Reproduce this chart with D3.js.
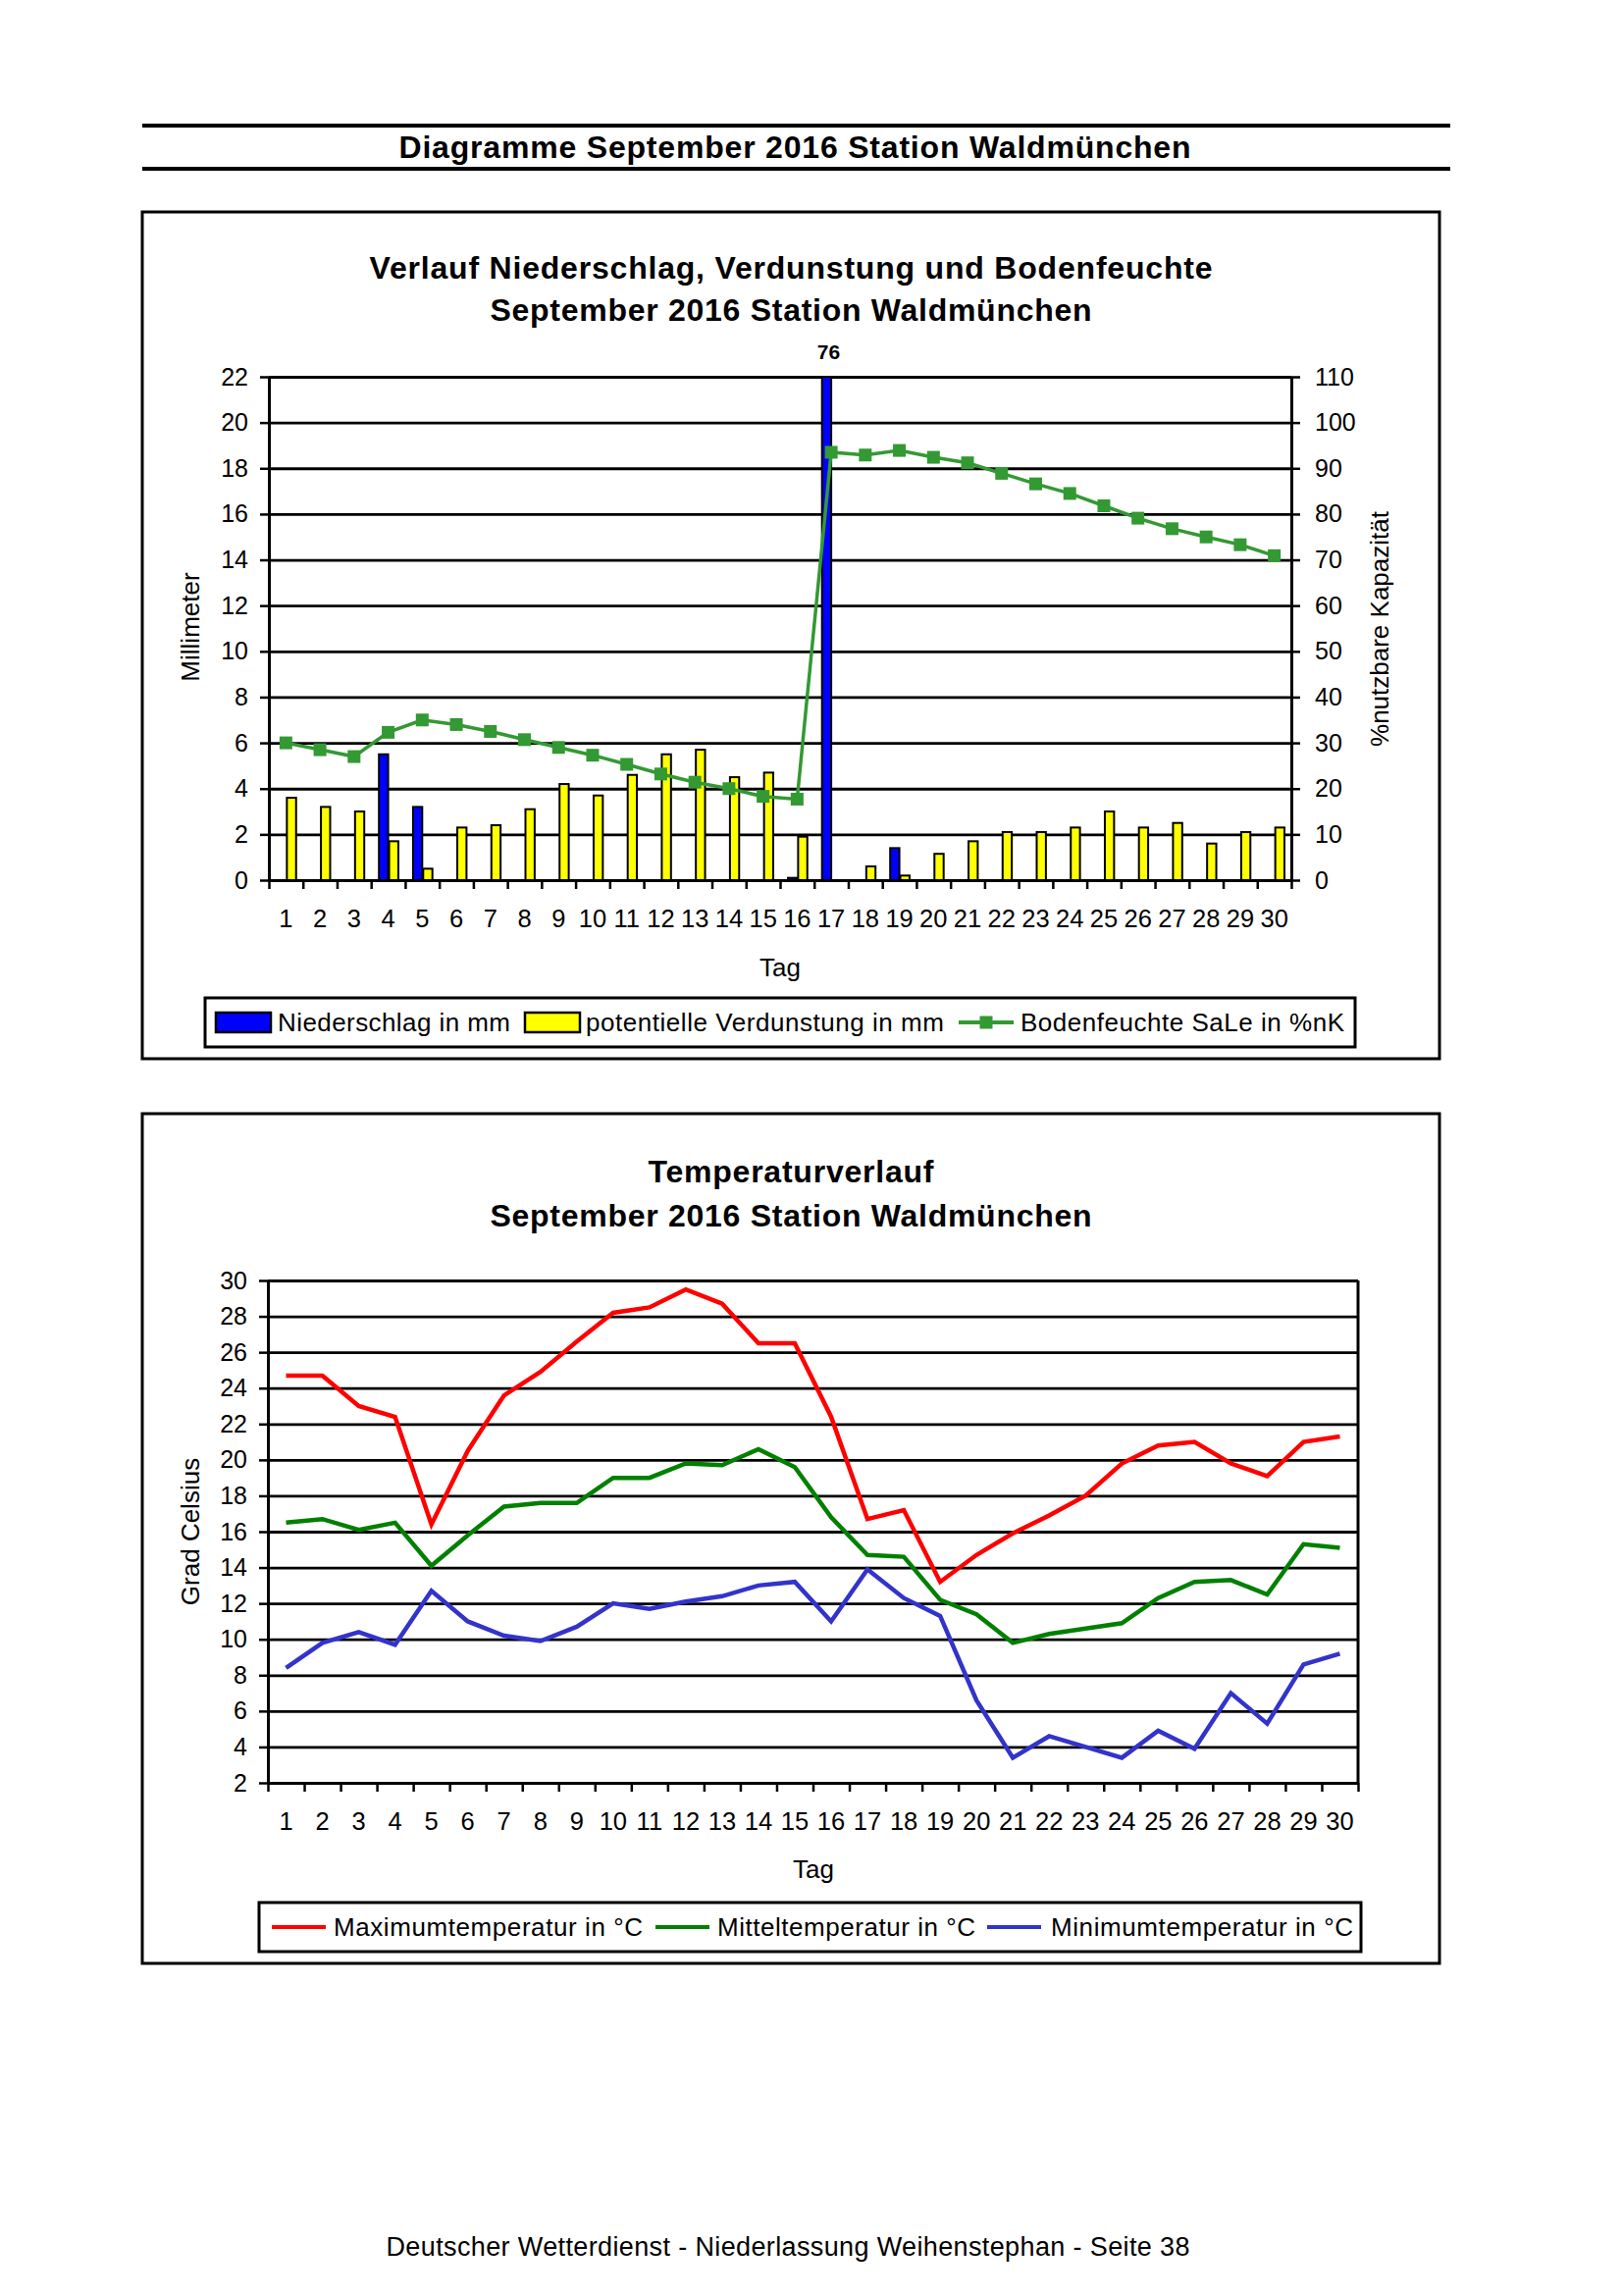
<!DOCTYPE html>
<html><head><meta charset="utf-8">
<script src="https://cdn.jsdelivr.net/npm/d3@7"></script>
<style>
body{margin:0;background:#fff}
svg{display:block}
text{font-family:"Liberation Sans",Arial,Helvetica,sans-serif;fill:#000}
</style>
</head><body>
<svg id="c" width="1653" height="2340"></svg>
<script>
// ---------- data ----------
const days = [1,2,3,4,5,6,7,8,9,10,11,12,13,14,15,16,17,18,19,20,21,22,23,24,25,26,27,28,29,30];
const niederschlag = [0,0,0,5.5,3.2,0,0,0,0,0,0,0,0,0,0,0.1,76,0,1.4,0,0,0,0,0,0,0,0,0,0,0];
const verdunstung = [3.6,3.2,3.0,1.7,0.5,2.3,2.4,3.1,4.2,3.7,4.6,5.5,5.7,4.5,4.7,1.9,0,0.6,0.2,1.15,1.7,2.1,2.1,2.3,3.0,2.3,2.5,1.6,2.1,2.3];
const bodenfeuchte = [30,28.5,27,32.3,35,34,32.5,30.7,29,27.3,25.3,23.2,21.4,20,18.3,17.7,93.5,92.9,93.9,92.4,91.2,88.9,86.6,84.5,81.8,79.1,76.8,75,73.3,70.9];
const tmax = [24.7,24.7,23.0,22.4,16.4,20.5,23.6,24.9,26.6,28.2,28.5,29.5,28.7,26.5,26.5,22.4,16.7,17.2,13.2,14.7,15.9,16.9,18.0,19.8,20.8,21.0,19.8,19.1,21.0,21.3];
const tmean = [16.5,16.7,16.1,16.5,14.1,15.8,17.4,17.6,17.6,19.0,19.0,19.8,19.7,20.6,19.6,16.8,14.7,14.6,12.2,11.4,9.8,10.3,10.6,10.9,12.3,13.2,13.3,12.5,15.3,15.1];
const tmin = [8.4,9.8,10.4,9.7,12.7,11.0,10.2,9.9,10.7,12.0,11.7,12.1,12.4,13.0,13.2,11.0,13.9,12.3,11.3,6.6,3.4,4.6,4.0,3.4,4.9,3.9,7.0,5.3,8.6,9.2];
const mmTicks = [0,2,4,6,8,10,12,14,16,18,20,22];
const pctTicks = [0,10,20,30,40,50,60,70,80,90,100,110];
const tempTicks = [2,4,6,8,10,12,14,16,18,20,22,24,26,28,30];

const headerTitle = "Diagramme September 2016 Station Waldmünchen";
const title1a = "Verlauf Niederschlag, Verdunstung und Bodenfeuchte";
const title1b = "September 2016 Station Waldmünchen";
const title2a = "Temperaturverlauf";
const title2b = "September 2016 Station Waldmünchen";
const footer = "Deutscher Wetterdienst - Niederlassung Weihenstephan - Seite 38";

// ---------- drawing ----------
const svg = d3.select("#c");
svg.append("rect").attr("width",1653).attr("height",2340).attr("fill","#fff");

function txt(g, s, x, y, o={}) {
  const t = g.append("text").attr("x",x).attr("y",y).text(s)
    .attr("font-size", o.size||26)
    .attr("text-anchor", o.anchor||"start");
  if (o.bold) t.attr("font-weight","bold");
  if (o.len) t.attr("textLength", o.len).attr("lengthAdjust","spacing");
  if (o.rotate) t.attr("transform", `rotate(${o.rotate},${x},${y})`).attr("dy","0.35em");
  return t;
}

// header
svg.append("line").attr("x1",145).attr("x2",1478).attr("y1",128).attr("y2",128).attr("stroke","#000").attr("stroke-width",4);
svg.append("line").attr("x1",145).attr("x2",1478).attr("y1",172).attr("y2",172).attr("stroke","#000").attr("stroke-width",4);
txt(svg, headerTitle, 810, 161, {size:32, bold:true, anchor:"middle", len:807});

function styleAxis(g, size) {
  g.selectAll("text").attr("font-size", size).attr("fill","#000")
    .attr("font-family",'"Liberation Sans",Arial,sans-serif');
  g.selectAll("line").attr("stroke","#000").attr("stroke-width",2.5);
  g.selectAll("path.domain").attr("stroke","#000").attr("stroke-width",3);
}
function grid(g, scale, values, width) {
  const gg = g.append("g").call(d3.axisLeft(scale).tickValues(values).tickSize(-width).tickFormat(""));
  gg.select(".domain").remove();
  gg.selectAll("line").attr("stroke","#000").attr("stroke-width",2.8);
  return gg;
}

// ===== Chart 1 =====
svg.append("rect").attr("x",145).attr("y",216).attr("width",1322).attr("height",863)
  .attr("fill","none").attr("stroke","#000").attr("stroke-width",3);
txt(svg, title1a, 806, 284, {size:32, bold:true, anchor:"middle", len:859});
txt(svg, title1b, 806, 327, {size:32, bold:true, anchor:"middle", len:613});

const p1 = {l:274, r:1316, t:384, b:897};
const x1 = d3.scaleBand().domain(days).range([p1.l, p1.r]);
const xe1 = d3.scaleLinear().domain([0, days.length]).range([p1.l, p1.r]);
const yL = d3.scaleLinear().domain([0, 22]).range([p1.b, p1.t]);
const yR = d3.scaleLinear().domain([0, 110]).range([p1.b, p1.t]);
const g1 = svg.append("g");
grid(g1.append("g").attr("transform",`translate(${p1.l},0)`), yL, mmTicks, p1.r-p1.l);

const bw = x1.bandwidth();
const barW = bw*0.27;
const yMax = yL.domain()[1];
// precipitation bars
g1.append("g").selectAll("rect").data(days.map((d,i)=>({d, v:niederschlag[i]})).filter(o=>o.v>0))
  .join("rect")
  .attr("x", o => x1(o.d) + bw/2 - barW)
  .attr("y", o => yL(Math.min(o.v, yMax)))
  .attr("width", barW)
  .attr("height", o => yL(0) - yL(Math.min(o.v, yMax)))
  .attr("fill","#0000ff").attr("stroke","#000").attr("stroke-width",2);
// value labels for clipped bars
g1.append("g").selectAll("text").data(days.map((d,i)=>({d, v:niederschlag[i]})).filter(o=>o.v>yMax))
  .join("text")
  .attr("x", o => x1(o.d) + bw/2 - barW/2 + 2)
  .attr("y", yL(yMax) - 18)
  .attr("text-anchor","middle").attr("font-size",21).attr("font-weight","bold")
  .text(o => o.v);
// evaporation bars
g1.append("g").selectAll("rect").data(days.map((d,i)=>({d, v:verdunstung[i]})).filter(o=>o.v>0))
  .join("rect")
  .attr("x", o => x1(o.d) + bw/2 + 1)
  .attr("y", o => yL(o.v))
  .attr("width", barW)
  .attr("height", o => yL(0) - yL(o.v))
  .attr("fill","#ffff00").attr("stroke","#000").attr("stroke-width",2);
// soil moisture
const soilColor = "#339933";
const soilLine = d3.line().x((v,i)=>x1(days[i])+bw/2).y(v=>yR(v));
g1.append("path").datum(bodenfeuchte).attr("d", soilLine)
  .attr("fill","none").attr("stroke",soilColor).attr("stroke-width",3.5);
g1.append("g").selectAll("rect").data(bodenfeuchte).join("rect")
  .attr("x",(v,i)=>x1(days[i])+bw/2-6.5).attr("y",v=>yR(v)-6.5)
  .attr("width",13).attr("height",13).attr("fill",soilColor);

// axes
const axL1 = g1.append("g").attr("transform",`translate(${p1.l},0)`)
  .call(d3.axisLeft(yL).tickValues(mmTicks).tickSize(9).tickSizeOuter(0).tickPadding(12));
styleAxis(axL1, 25);
const axR1 = g1.append("g").attr("transform",`translate(${p1.r},0)`)
  .call(d3.axisRight(yR).tickValues(pctTicks).tickSize(9).tickSizeOuter(0).tickPadding(15));
styleAxis(axR1, 25);
const axT1 = g1.append("g").attr("transform",`translate(0,${p1.b})`)
  .call(d3.axisBottom(xe1).tickValues(d3.range(0, days.length+1)).tickSize(9).tickSizeOuter(0).tickFormat(""));
styleAxis(axT1, 25);
const axB1 = g1.append("g").attr("transform",`translate(0,${p1.b})`)
  .call(d3.axisBottom(x1).tickSize(0).tickPadding(30));
axB1.select(".domain").remove();
styleAxis(axB1, 25.5);

txt(svg, "Tag", 795, 995, {size:26, anchor:"middle"});
txt(svg, "Millimeter", 194, 639, {size:26, anchor:"middle", rotate:-90});
txt(svg, "%nutzbare Kapazität", 1406, 641, {size:26, anchor:"middle", rotate:-90});

// legend 1
const lg1 = svg.append("g");
lg1.append("rect").attr("x",209).attr("y",1017).attr("width",1172).attr("height",50)
  .attr("fill","#fff").attr("stroke","#000").attr("stroke-width",3);
lg1.append("rect").attr("x",220).attr("y",1032).attr("width",56).attr("height",20)
  .attr("fill","#0000ff").attr("stroke","#000").attr("stroke-width",2.5);
txt(lg1, "Niederschlag in mm", 283, 1051, {size:26, len:237});
lg1.append("rect").attr("x",535).attr("y",1032).attr("width",56).attr("height",20)
  .attr("fill","#ffff00").attr("stroke","#000").attr("stroke-width",2.5);
txt(lg1, "potentielle Verdunstung in mm", 597, 1051, {size:26, len:365});
lg1.append("line").attr("x1",977).attr("x2",1033).attr("y1",1042).attr("y2",1042)
  .attr("stroke",soilColor).attr("stroke-width",4);
lg1.append("rect").attr("x",998.5).attr("y",1035.5).attr("width",13).attr("height",13).attr("fill",soilColor);
txt(lg1, "Bodenfeuchte SaLe in %nK", 1040, 1051, {size:26, len:330});

// ===== Chart 2 =====
svg.append("rect").attr("x",145).attr("y",1135).attr("width",1322).attr("height",866)
  .attr("fill","none").attr("stroke","#000").attr("stroke-width",3);
txt(svg, title2a, 806, 1205, {size:32, bold:true, anchor:"middle", len:291});
txt(svg, title2b, 806, 1250, {size:32, bold:true, anchor:"middle", len:613});

const p2 = {l:273, r:1384, t:1305, b:1817};
const x2 = d3.scaleBand().domain(days).range([p2.l, p2.r]);
const xe2 = d3.scaleLinear().domain([0, days.length]).range([p2.l, p2.r]);
const yT = d3.scaleLinear().domain([2, 30]).range([p2.b, p2.t]);
const g2 = svg.append("g");
grid(g2.append("g").attr("transform",`translate(${p2.l},0)`), yT, tempTicks, p2.r-p2.l);
g2.append("line").attr("x1",p2.r).attr("x2",p2.r).attr("y1",p2.t).attr("y2",p2.b)
  .attr("stroke","#000").attr("stroke-width",3);

const bw2 = x2.bandwidth();
const series = [
  {vals:tmax, color:"#ff0000", name:"Maximumtemperatur in °C"},
  {vals:tmean, color:"#008000", name:"Mitteltemperatur in °C"},
  {vals:tmin, color:"#3333cc", name:"Minimumtemperatur in °C"}
];
const tLine = d3.line().x((v,i)=>x2(days[i])+bw2/2).y(v=>yT(v));
series.forEach(s => {
  g2.append("path").datum(s.vals).attr("d", tLine)
    .attr("fill","none").attr("stroke",s.color).attr("stroke-width",4.5).attr("stroke-linejoin","miter");
});

const axL2 = g2.append("g").attr("transform",`translate(${p2.l},0)`)
  .call(d3.axisLeft(yT).tickValues(tempTicks).tickSize(9).tickSizeOuter(0).tickPadding(12));
styleAxis(axL2, 25);
const axT2 = g2.append("g").attr("transform",`translate(0,${p2.b})`)
  .call(d3.axisBottom(xe2).tickValues(d3.range(0, days.length+1)).tickSize(9).tickSizeOuter(0).tickFormat(""));
styleAxis(axT2, 25);
const axB2 = g2.append("g").attr("transform",`translate(0,${p2.b})`)
  .call(d3.axisBottom(x2).tickSize(0).tickPadding(30));
axB2.select(".domain").remove();
styleAxis(axB2, 25.5);

txt(svg, "Tag", 829, 1914, {size:26, anchor:"middle"});
txt(svg, "Grad Celsius", 194, 1561, {size:26, anchor:"middle", rotate:-90});

// legend 2
const lg2 = svg.append("g");
lg2.append("rect").attr("x",264).attr("y",1939).attr("width",1123).attr("height",50)
  .attr("fill","#fff").attr("stroke","#000").attr("stroke-width",3);
const lgPos = [{lx:277, tx:340, len:315},{lx:668, tx:731, len:263},{lx:1006, tx:1071, len:308}];
series.forEach((s,i) => {
  lg2.append("line").attr("x1",lgPos[i].lx).attr("x2",lgPos[i].lx+55).attr("y1",1964).attr("y2",1964)
    .attr("stroke",s.color).attr("stroke-width",4);
  txt(lg2, s.name, lgPos[i].tx, 1973, {size:26, len:lgPos[i].len});
});

// footer
txt(svg, footer, 803, 2299, {size:27, anchor:"middle", len:819});
</script>
</body></html>
